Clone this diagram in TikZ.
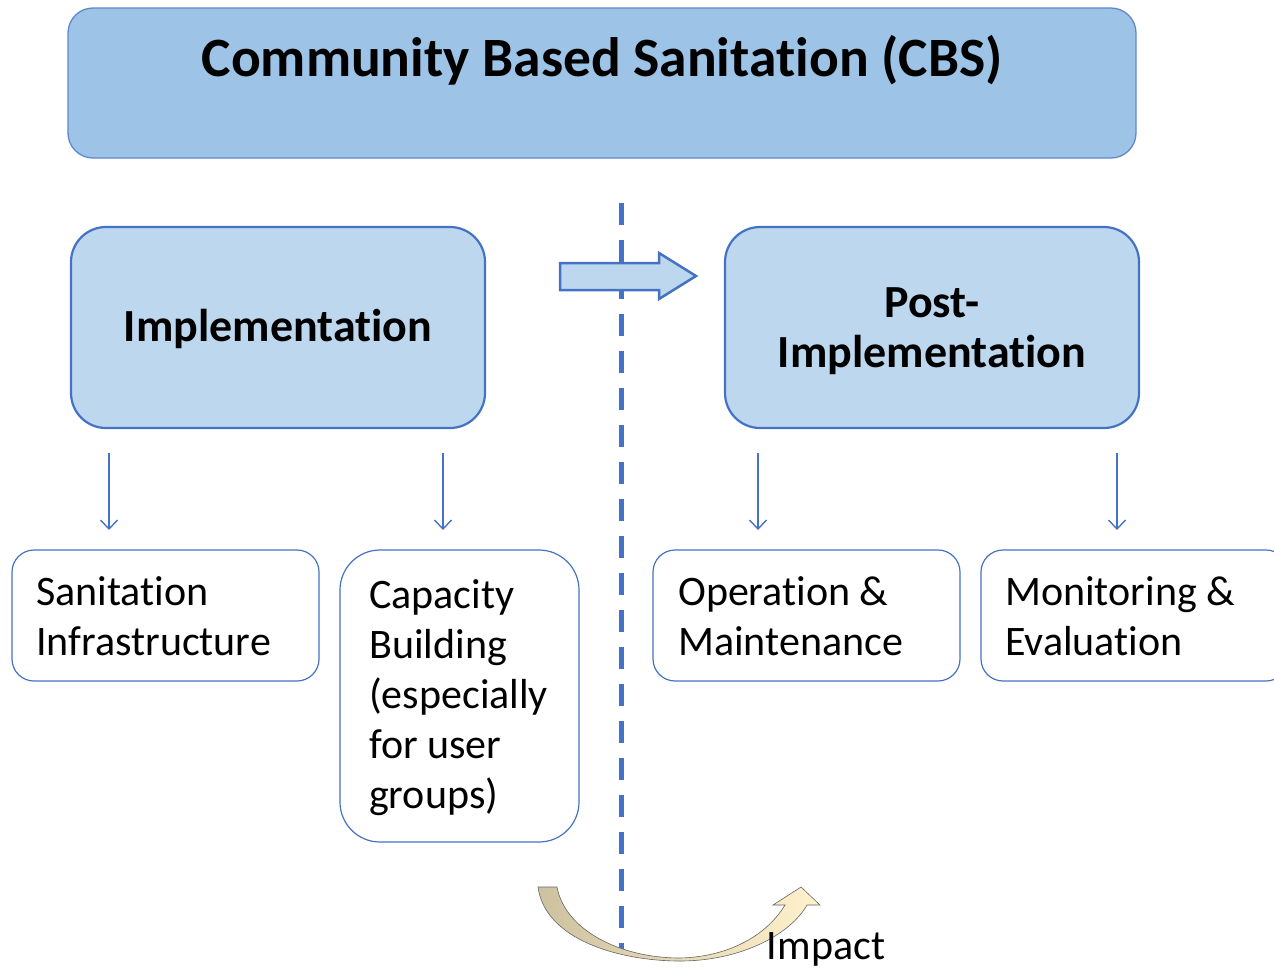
\documentclass[tikz,border=0pt]{standalone}
\usepackage{fontspec}
\setmainfont{Carlito}[Ligatures=NoCommon]
\usetikzlibrary{arrows.meta}
\definecolor{bord}{HTML}{4472C4}
\definecolor{titlefill}{HTML}{9DC3E6}
\definecolor{phasefill}{HTML}{BDD7EE}
\definecolor{tanL}{HTML}{CDC19F}
\definecolor{tanR}{HTML}{FFF2CC}
\tikzset{
  titlebox/.style={draw=bord!85, line width=1.3pt, fill=titlefill, rounded corners=25pt, minimum width=1068pt, minimum height=150pt, inner sep=0pt},
  phasebox/.style={draw=bord, line width=2.2pt, fill=phasefill, rounded corners=35pt, minimum width=414pt, minimum height=201pt, inner sep=0pt},
  itembox/.style={draw=bord, line width=1.2pt, fill=white, rounded corners=22pt, minimum height=131pt, inner sep=0pt},
  bigtxt/.style={font=\fontsize{55.5}{66}\selectfont\bfseries},
  phasetxt/.style={font=\fontsize{46}{50}\selectfont\bfseries, align=center},
  itemtxt/.style={font=\fontsize{42}{50}\selectfont, align=left, anchor=west, inner sep=0pt},
  downarrow/.style={draw=bord, line width=1.4pt, -{Straight Barb[length=9pt,width=17pt,line width=1.4pt]}},
}
\begin{document}
\begin{tikzpicture}[x=1pt,y=-1pt]
\useasboundingbox (0,0) rectangle (1274,970);
% title
\node[titlebox] (title) at (602,83) {};
\node[bigtxt] (titletxt) at (602,60) {Community Based Sanitation (CBS)};
% dashed line
\coordinate (dtop) at (621,203);
\coordinate (dbot) at (621,950);
\draw[bord, line width=5pt, dash pattern=on 22pt off 15pt] (dtop) -- (dbot);
% phase boxes
\node[phasebox] (impl) at (278,327.5) {};
\node[phasetxt] (impltxt) at (278,329) {Implementation};
\node[phasebox] (post) at (932,327.5) {};
\node[phasetxt] (posttxt) at (932,331) {Post-\\Implementation};
% block arrow
\draw[bord, line width=2.5pt, fill=phasefill, line join=miter]
  (560,263) -- (659,263) -- (659,253) -- (696,276) -- (659,299) -- (659,290) -- (560,290) -- cycle;
% item boxes
\node[itembox, minimum width=307pt] (si) at (165.5,615.5) {};
\node[itemtxt] (sitxt) at (36,616) {Sanitation\\Infrastructure};
\node[itembox, minimum width=239pt, minimum height=292pt, rounded corners=40pt] (cb) at (459.5,696) {};
\node[itemtxt] (cbtxt) at (369,698) {Capacity\\Building\\(especially\\for user\\groups)};
\node[itembox, minimum width=307pt] (om) at (806.5,615.5) {};
\node[itemtxt] (omtxt) at (678,616) {Operation \&\\Maintenance};
\node[itembox, minimum width=307pt] (me) at (1134.5,615.5) {};
\node[itemtxt] (metxt) at (1005,616) {Monitoring \&\\Evaluation};
% small arrows
\coordinate (a1) at (109,453); \coordinate (b1) at (109,530);
\coordinate (a2) at (443,453); \coordinate (b2) at (443,530);
\coordinate (a3) at (758,453); \coordinate (b3) at (758,530);
\coordinate (a4) at (1117,453); \coordinate (b4) at (1117,530);
\draw[downarrow] (a1) -- (b1);
\draw[downarrow] (a2) -- (b2);
\draw[downarrow] (a3) -- (b3);
\draw[downarrow] (a4) -- (b4);
% curved arrow
\shade[left color=tanL, right color=tanR, draw=gray!80!black, line width=0.6pt]
  (538,887) .. controls (545,940) and (620,961) .. (680,961)
  .. controls (740,961) and (790,935) .. (807,905)
  -- (820,905) -- (801,887) -- (773,905) -- (785,905)
  .. controls (765,938) and (725,957) .. (680,958)
  .. controls (620,958) and (565,930) .. (557,887) -- cycle;
\node[font=\fontsize{42}{50}\selectfont, inner sep=0pt] (impact) at (826,949) {Impact};
\end{tikzpicture}
\end{document}
